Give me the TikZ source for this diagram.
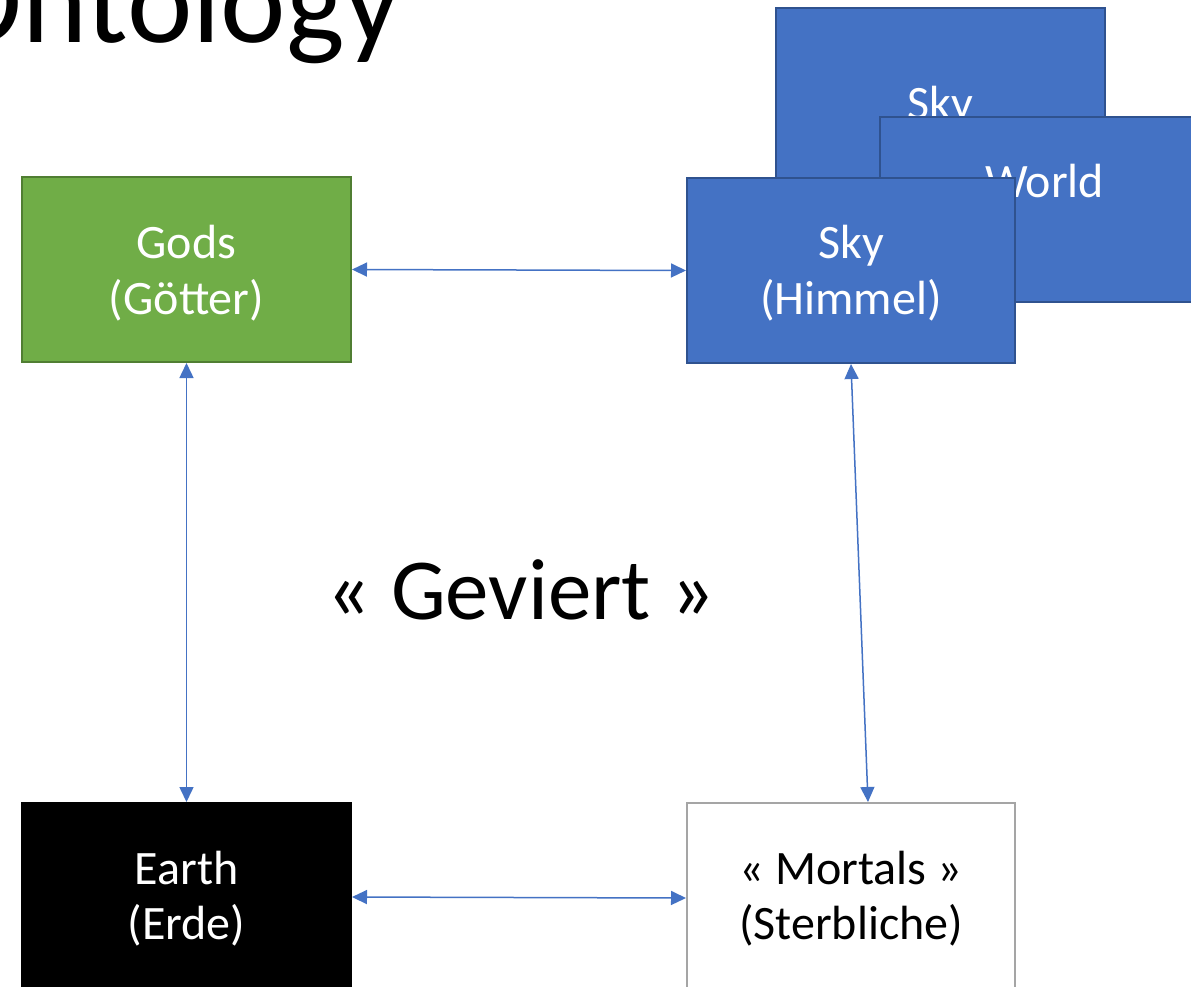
\documentclass[tikz,border=0pt]{standalone}
\usepackage{fontspec}
\setmainfont{Carlito}
\usetikzlibrary{arrows.meta,calc}
\definecolor{accblue}{HTML}{4472C4}
\definecolor{accblueD}{HTML}{2F528F}
\definecolor{accgreen}{HTML}{70AD47}
\definecolor{accgreenD}{HTML}{507E32}
\definecolor{mortgray}{HTML}{A5A5A5}
\begin{document}
\begin{tikzpicture}[x=1pt,y=-1pt,
  box/.style={rectangle, inner sep=0pt, line width=2pt, minimum width=329pt, minimum height=185pt},
  bluebox/.style={box, fill=accblue, draw=accblueD},
  lbl/.style={inner sep=0pt, anchor=base, font=\fontsize{48}{57}\selectfont},
  wlbl/.style={lbl, text=white},
  link/.style={draw=accblue, line width=1.5pt, {Triangle[length=15pt,width=14pt]}-{Triangle[length=15pt,width=14pt]}}
]
\useasboundingbox (0,0) rectangle (1191,986);
\fill[white] (0,0) rectangle (1191,986);
% title
\node[lbl, anchor=base east, font=\fontsize{124}{130}\selectfont] (title) at (401,42) {Ontology};
% gods
\node[box, fill=accgreen, draw=accgreenD] (gods) at (186.5,269.5) {};
\node[wlbl] (godsA) at (186.5,258) {Gods};
\node[wlbl] (godsB) at (186.5,314) {(Götter)};
% earth
\node[box, fill=black, draw=black, minimum height=188pt] (earth) at (186.5,897) {};
\node[wlbl] (earthA) at (186.5,884) {Earth};
\node[wlbl] (earthB) at (186.5,939) {(Erde)};
% mortals
\node[box, fill=white, draw=mortgray, minimum width=328pt, minimum height=190pt] (mortals) at (851,898) {};
\node[lbl] (mortalsA) at (851,884) {« Mortals »};
\node[lbl] (mortalsB) at (851,939) {(Sterbliche)};
% sky stack
\node[bluebox] (skyback) at (940.5,100.5) {};
\node[wlbl] (skybackA) at (940.5,119) {Sky};
\node[bluebox] (world) at (1044.5,209.5) {};
\node[wlbl] (worldA) at (1044.5,197) {World};
\node[bluebox, minimum width=328pt] (sky) at (851,270.5) {};
\node[wlbl] (skyA) at (851,258) {Sky};
\node[wlbl] (skyB) at (851,314) {(Himmel)};
% centre text
\node[lbl, font=\fontsize{87}{104}\selectfont] (geviert) at (521,619) {« Geviert »};
% connectors
\draw[link] (gods.east) -- (sky.west);
\draw[link] (gods.south) -- (earth.north);
\draw[link] (sky.south) -- ([xshift=17pt]mortals.north);
\draw[link] (earth.east) -- (mortals.west);
\end{tikzpicture}
\end{document}
